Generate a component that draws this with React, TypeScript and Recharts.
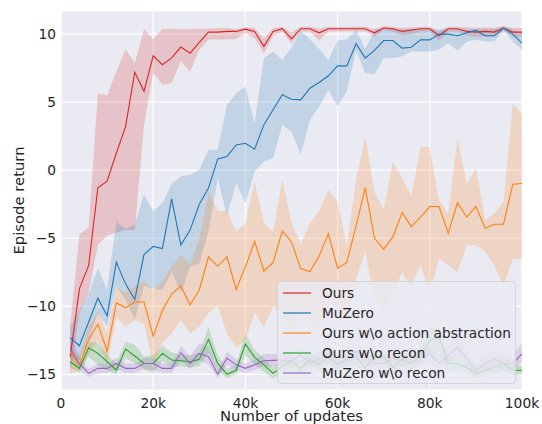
import React from 'react';
import { ComposedChart, Line, Area, XAxis, YAxis, CartesianGrid, Legend } from 'recharts';

// number of updates, in thousands
const updatesK = [
    2, 4, 6, 8, 10, 12, 14, 16, 18, 20,
    22, 24, 26, 28, 30, 32, 34, 36, 38, 40,
    42, 44, 46, 48, 50, 52, 54, 56, 58, 60,
    62, 64, 66, 68, 70, 72, 74, 76, 78, 80,
    82, 84, 86, 88, 90, 92, 94, 96, 98, 100,
];

const oursMean = [-13.7, -8.7, -7.0, -1.3, -0.8, 1.25, 3.2, 7.2, 5.8, 8.4, 7.75, 8.25, 9.05, 8.6, 9.4, 10.15, 10.15, 10.2, 10.2, 10.37, 10.2, 9.1, 10.2, 10.4, 9.65, 10.4, 10.4, 10.1, 10.4, 10.4, 10.4, 10.4, 10.4, 10.1, 10.45, 10.4, 10.2, 10.3, 10.4, 10.4, 9.9, 10.4, 10.4, 10.2, 10.15, 10.2, 10.15, 10.45, 10.15, 10.15];
const oursLo = [-15, -10.5, -9, -5.5, -4.8, -4.6, -4.4, -4.4, 3.3, 7.15, 6.3, 6.4, 8.0, 7.25, 8.85, 9.6, 9.6, 9.6, 9.65, 10.1, 9.7, 8.6, 9.85, 10.2, 9.3, 10.2, 10.2, 9.5, 10.2, 10.2, 10.2, 10.2, 10.2, 9.8, 10.3, 10.2, 9.9, 10.0, 10.2, 10.2, 9.5, 10.2, 10.2, 9.9, 9.8, 9.85, 9.8, 10.25, 9.8, 9.8];
const oursHi = [-11.4, -4.7, -4.2, 5.66, 5.49, 7.25, 8.9, 7.87, 10.37, 9.63, 10.4, 10.4, 10.35, 10.35, 10.4, 10.4, 10.45, 10.45, 10.4, 10.5, 10.45, 9.7, 10.45, 10.55, 10.1, 10.55, 10.55, 10.4, 10.55, 10.55, 10.55, 10.55, 10.55, 10.35, 10.6, 10.55, 10.45, 10.5, 10.55, 10.55, 10.2, 10.55, 10.55, 10.5, 10.45, 10.5, 10.45, 10.6, 10.45, 10.45];

const muzeroMean = [-12.3, -12.9, -11.15, -9.4, -10.7, -6.75, -8.35, -9.5, -6.2, -5.6, -5.75, -2.1, -5.5, -4.4, -2.5, -1.3, 0.83, 1.0, 1.86, 1.98, 1.54, 3.33, 4.44, 5.54, 5.22, 5.17, 6.03, 6.45, 6.94, 7.67, 7.67, 9.29, 8.24, 8.8, 9.53, 9.53, 8.97, 9.04, 9.58, 9.58, 10.0, 10.0, 9.88, 10.1, 10.27, 9.88, 9.88, 10.44, 10.0, 9.34];
const muzeroLo = [-13.7, -14.0, -12.5, -10.5, -11.5, -8.5, -9.5, -11.0, -8.5, -8.7, -8.8, -7.5, -9.0, -7.1, -6.9, -4.5, -0.6, -3.3, -0.95, -2.4, -0.1, 0.64, 0.88, 3.33, 2.84, 1.13, 3.7, 4.68, 5.9, 4.7, 5.78, 8.85, 7.13, 7.06, 8.24, 8.24, 8.36, 8.73, 8.73, 8.73, 8.85, 9.34, 8.8, 9.46, 9.58, 9.46, 9.46, 10.27, 9.46, 8.85];
const muzeroHi = [-11.5, -10.3, -9.1, -7.2, -8.8, -3.8, -4.3, -4.0, -1.8, -3.0, -2.4, -1.0, -0.46, -0.34, 0.03, 1.5, 1.5, 4.8, 5.66, 6.15, 3.45, 8.24, 8.73, 8.1, 9.0, 10.27, 9.6, 8.9, 8.1, 9.53, 9.6, 10.3, 8.9, 10.3, 10.4, 10.35, 10.35, 10.35, 10.35, 10.35, 10.35, 10.35, 10.35, 10.35, 10.4, 10.35, 10.35, 10.6, 10.35, 10.1];

const noAbstMean = [-13.36, -14.3, -12.45, -11.3, -13.3, -9.75, -10.1, -9.68, -9.68, -12.2, -10.3, -9.1, -8.5, -9.9, -8.8, -6.37, -7.06, -6.37, -8.77, -7.1, -5.22, -7.4, -6.8, -4.46, -5.27, -7.23, -7.45, -6.3, -4.66, -7.2, -6.8, -4.1, -1.3, -5.0, -5.8, -4.9, -3.1, -4.14, -3.45, -2.67, -2.67, -4.63, -2.38, -3.45, -2.67, -4.26, -3.97, -3.97, -1.03, -0.98];
const noAbstLo = [-15, -14.7, -13.5, -12.5, -14.3, -10.8, -11.5, -11.0, -11.3, -14.3, -12.7, -12.0, -11.0, -12.0, -11.5, -10.5, -10.0, -12.0, -13.0, -12.5, -10.5, -11.5, -10.0, -10.5, -12.0, -10.5, -11.0, -12.0, -8.5, -11.0, -10.5, -8.0, -6.0, -9.5, -10.3, -9.0, -7.5, -8.5, -7.0, -9.0, -6.5, -7.0, -7.5, -5.5, -5.5, -6.0, -7.0, -8.5, -6.5, -6.5];
const noAbstHi = [-12.8, -13.7, -11.5, -10.3, -12.0, -8.6, -9.0, -8.5, -8.1, -8.8, -8.1, -7.1, -6.25, -7.0, -5.0, -1.6, -3.0, -3.0, -4.5, -3.9, -0.8, -3.9, -4.5, -0.7, -3.8, -5.4, -3.9, -3.0, -1.45, -2.3, -5.6, -0.71, 2.5, -1.6, -2.9, 0.64, -0.6, -1.9, 1.7, 1.7, -2.2, -3.2, 2.4, -1.0, 0.15, -3.65, -3.2, -2.3, 4.9, 4.1];

const noReconMean = [-14.07, -14.56, -13.04, -13.46, -14.07, -14.7, -13.14, -13.65, -14.2, -14.2, -13.46, -13.95, -14.0, -14.07, -13.9, -12.43, -14.2, -15.0, -14.7, -12.77, -13.75, -14.3, -14.93, -14.44, -14.0, -14.6, -13.9, -14.3, -13.7, -14.2, -13.9, -13.7, -14.5, -13.7, -13.7, -14.5, -13.85, -14.2, -13.6, -12.5, -12.25, -14.2, -14.2, -14.5, -14.95, -14.7, -14.5, -14.2, -14.7, -14.7];
const noReconLo = [-14.5, -14.9, -13.7, -14.3, -14.7, -15.0, -13.8, -14.2, -14.6, -14.9, -14.0, -14.5, -14.4, -14.5, -14.4, -13.4, -14.7, -15.3, -15.0, -13.6, -14.3, -14.8, -15.3, -14.9, -14.5, -15.0, -14.4, -14.8, -14.2, -14.7, -14.4, -14.3, -14.9, -14.2, -14.2, -14.9, -14.4, -14.7, -14.2, -13.6, -13.4, -14.8, -14.7, -14.9, -15.3, -15.1, -14.9, -14.7, -15.1, -15.0];
const noReconHi = [-13.6, -14.2, -12.6, -12.7, -13.5, -14.2, -12.6, -12.8, -13.7, -13.6, -12.9, -13.4, -13.6, -13.6, -13.4, -11.5, -13.6, -14.6, -14.3, -12.0, -13.2, -13.8, -14.5, -13.9, -13.5, -14.1, -13.4, -13.8, -13.2, -13.7, -13.4, -13.2, -14.0, -13.2, -13.2, -14.0, -13.3, -13.7, -13.0, -11.6, -11.5, -13.6, -13.7, -14.0, -14.5, -14.3, -14.0, -13.7, -14.3, -14.4];

const mzNoReconMean = [-13.1, -14.2, -14.93, -14.56, -14.56, -14.2, -14.56, -14.56, -14.2, -14.2, -14.56, -14.56, -13.4, -14.2, -13.46, -13.7, -15.0, -13.8, -14.3, -14.56, -14.3, -14.0, -13.97, -13.95, -14.0, -13.6, -14.2, -13.8, -13.7, -14.3, -13.9, -13.3, -13.7, -14.2, -14.2, -13.8, -14.0, -13.6, -13.8, -13.5, -14.2, -13.6, -13.0, -13.8, -14.7, -14.2, -13.85, -14.2, -14.2, -13.5];
const mzNoReconLo = [-13.8, -14.7, -15.2, -14.9, -14.9, -14.6, -14.9, -14.9, -14.6, -14.7, -14.9, -14.9, -14.0, -14.6, -14.0, -14.3, -15.3, -14.3, -14.7, -14.9, -14.7, -14.4, -14.4, -14.4, -14.5, -14.1, -14.6, -14.3, -14.2, -14.7, -14.4, -13.9, -14.2, -14.6, -14.6, -14.3, -14.5, -14.1, -14.3, -14.1, -14.7, -14.2, -13.6, -14.3, -15.1, -14.7, -14.4, -14.7, -14.7, -14.1];
const mzNoReconHi = [-12.3, -13.6, -14.6, -14.2, -14.2, -13.8, -14.2, -14.2, -13.8, -13.8, -14.2, -14.2, -12.9, -13.7, -12.7, -13.0, -14.6, -13.3, -13.9, -14.2, -13.9, -13.5, -13.5, -13.5, -13.5, -13.1, -13.7, -13.3, -13.2, -13.8, -13.4, -12.7, -13.2, -13.7, -13.7, -13.2, -13.5, -12.9, -13.2, -12.8, -13.6, -12.8, -12.2, -13.2, -14.2, -13.6, -13.2, -13.6, -13.7, -12.7];

const xTicks = [0, 20000, 40000, 60000, 80000, 100000];
const yTicks = [-15, -10, -5, 0, 5, 10];

const FONT = '"DejaVu Sans", sans-serif';
const TEXT = '#262626';

const series = [
    { key: 'ours', name: 'Ours', color: '#d62728', mean: oursMean, lo: oursLo, hi: oursHi },
    { key: 'muzero', name: 'MuZero', color: '#1f77b4', mean: muzeroMean, lo: muzeroLo, hi: muzeroHi },
    { key: 'noAbst', name: 'Ours w\\o action abstraction', color: '#ff7f0e', mean: noAbstMean, lo: noAbstLo, hi: noAbstHi },
    { key: 'noRecon', name: 'Ours w\\o recon', color: '#2ca02c', mean: noReconMean, lo: noReconLo, hi: noReconHi },
    { key: 'mzNoRecon', name: 'MuZero w\\o recon', color: '#9467bd', mean: mzNoReconMean, lo: mzNoReconLo, hi: mzNoReconHi },
];

const data = updatesK.map((k, i) => {
    const row: Record<string, number | number[]> = { step: k * 1000 };
    series.forEach(s => {
        row[s.key] = s.mean[i];
        row[s.key + 'Band'] = [s.lo[i], s.hi[i]];
    });
    return row;
});

const fmtX = (v: number) => (v === 0 ? '0' : `${v / 1000}k`);
const fmtY = (v: number) => (v < 0 ? `\u2212${-v}` : `${v}`);

// keep the plotting order, recharts sorts legend items by name otherwise
const LegendBox = (props: any) => {
    const payload = props.payload || [];
    const items = series
        .map(s => payload.find((p: any) => p.dataKey === s.key))
        .filter(Boolean);
    return (
        <div style={{
            boxSizing: 'border-box',
            background: 'rgba(234,234,242,0.8)',
            border: '1px solid #d3d3d8',
            borderRadius: 4,
            padding: '1px 0 0 5px',
            fontFamily: FONT,
            fontSize: 13.7,
            lineHeight: '20px',
            color: TEXT,
            width: 239,
            height: 103,
        }}>
            {items.map((p: any) => (
                <div key={p.value} style={{ display: 'flex', alignItems: 'center', height: 20 }}>
                    <span style={{ display: 'inline-block', width: 28, height: 0, borderTop: `2px solid ${p.color}`, opacity: 0.6, marginRight: 11 }} />
                    <span style={{ whiteSpace: 'nowrap' }}>{p.value}</span>
                </div>
            ))}
        </div>
    );
};

const App: React.FC = () => {
    return (
        <div style={{ position: 'absolute', left: 0, top: 0, width: 542, height: 424, background: '#fff', fontFamily: FONT }}>
            <ComposedChart width={542} height={424} data={data} margin={{ top: 11, right: 20, left: 0, bottom: 0 }}>
                <CartesianGrid fill="#EAEAF2" stroke="#ffffff" strokeWidth={1.2} />
                <XAxis
                    dataKey="step"
                    type="number"
                    domain={[0, 100000]}
                    ticks={xTicks}
                    tickFormatter={fmtX}
                    axisLine={false}
                    tickLine={false}
                    tickSize={0}
                    tickMargin={8}
                    height={34}
                    tick={{ fontSize: 13.8, fill: TEXT, fontFamily: FONT }}
                    label={(p: any) => (
                        <text x={p.viewBox.x + p.viewBox.width / 2} y={421} textAnchor="middle" fontSize={14.8} fill={TEXT} fontFamily={FONT}>
                            Number of updates
                        </text>
                    )}
                />
                <YAxis
                    type="number"
                    domain={[-16.15, 11.7]}
                    allowDataOverflow
                    ticks={yTicks}
                    tickFormatter={fmtY}
                    axisLine={false}
                    tickLine={false}
                    tickSize={0}
                    tickMargin={5}
                    width={61}
                    tick={{ fontSize: 13.8, fill: TEXT, fontFamily: FONT }}
                    label={() => (
                        <text x={18} y={200.5} transform="rotate(-90 18 200.5)" textAnchor="middle" dominantBaseline="central" fontSize={14.8} fill={TEXT} fontFamily={FONT}>
                            Episode return
                        </text>
                    )}
                />
                {series.map(s => (
                    <Area
                        key={s.key + 'Band'}
                        type="linear"
                        dataKey={s.key + 'Band'}
                        stroke="none"
                        fill={s.color}
                        fillOpacity={0.2}
                        legendType="none"
                        isAnimationActive={false}
                        activeDot={false}
                    />
                ))}
                {series.map(s => (
                    <Line
                        key={s.key}
                        type="linear"
                        dataKey={s.key}
                        name={s.name}
                        stroke={s.color}
                        strokeWidth={1.1}
                        dot={false}
                        activeDot={false}
                        isAnimationActive={false}
                    />
                ))}
                <Legend
                    layout="vertical"
                    align="center"
                    verticalAlign="middle"
                    content={<LegendBox />}
                    wrapperStyle={{ left: 277, top: 281, width: 239 }}
                />
            </ComposedChart>
        </div>
    );
};

export default App;
